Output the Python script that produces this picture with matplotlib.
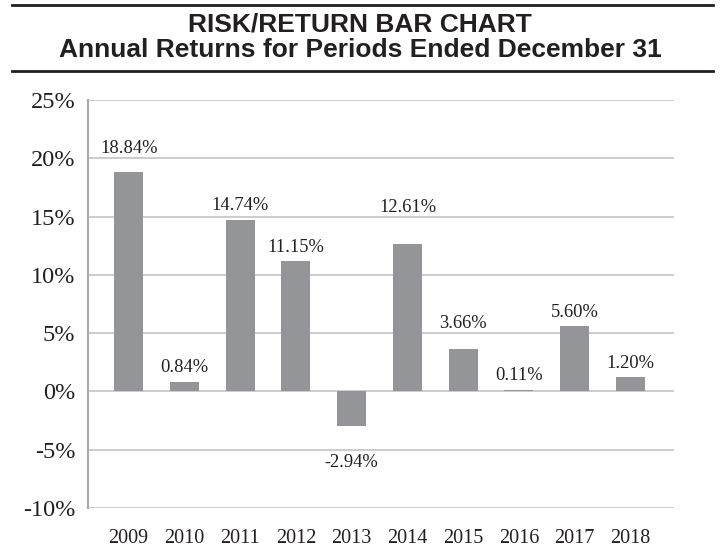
import matplotlib
matplotlib.use("Agg")
import matplotlib.pyplot as plt
from matplotlib.lines import Line2D
from matplotlib.ticker import FuncFormatter

years = ["2009", "2010", "2011", "2012", "2013", "2014", "2015", "2016", "2017", "2018"]
returns = [18.84, 0.84, 14.74, 11.15, -2.94, 12.61, 3.66, 0.11, 5.60, 1.20]
y_ticks = [-10, -5, 0, 5, 10, 15, 20, 25]

# where each value label sits (percent units)
label_y = [20.84, 2.03, 15.95, 12.38, -6.06, 15.8, 5.8, 1.37, 6.8, 2.37]

BAR = "#939598"
INK = "#231f20"
GRID = "#c4c4c4"
SERIF = "Liberation Serif"

W, H = 720, 548
fig = plt.figure(figsize=(W / 100, H / 100), dpi=100)

# title block between two rules
for y in (5.3, 71.2):
    fig.add_artist(Line2D([12 / W, 713 / W], [1 - y / H, 1 - y / H],
                          color=INK, lw=2.0, transform=fig.transFigure))
fig.text(0.5, 1 - 24.5 / H, "RISK/RETURN BAR CHART", ha="center", va="center",
         family="Liberation Sans", weight="bold", fontsize=19, color=INK)
fig.text(0.5, 1 - 50 / H, "Annual Returns for Periods Ended December 31",
         ha="center", va="center", family="Liberation Sans", weight="bold",
         fontsize=19, color=INK)

ax = fig.add_axes([87.7 / W, 40 / H, (674 - 87.7) / W, 408 / H])
x = range(len(years))
ax.bar(x, returns, width=0.52, color=BAR, zorder=3)
for i, (v, ly) in enumerate(zip(returns, label_y)):
    ax.text(i, ly, f"{v:.2f}%", ha="center", va="center", family=SERIF,
            fontsize=13.3, color=INK)

ax.set_xlim(-0.735, 9.78)
ax.set_ylim(-10, 25)
ax.set_yticks(y_ticks)
ax.yaxis.set_major_formatter(FuncFormatter(lambda v, _: f"{v:.0f}%"))
ax.set_xticks(list(x))
ax.set_xticklabels(years)
ax.grid(axis="y", color=GRID, lw=1.2, zorder=0)
ax.tick_params(length=0, colors=INK)
ax.tick_params(axis="y", pad=9, labelsize=17.5)
ax.tick_params(axis="x", pad=15, labelsize=14.5)
for lab in ax.get_xticklabels() + ax.get_yticklabels():
    lab.set_family(SERIF)
for side in ("top", "right", "bottom"):
    ax.spines[side].set_visible(False)
ax.spines["left"].set_color("#a7a9ac")
ax.spines["left"].set_linewidth(1.5)

fig.savefig("out.png", dpi=100)
